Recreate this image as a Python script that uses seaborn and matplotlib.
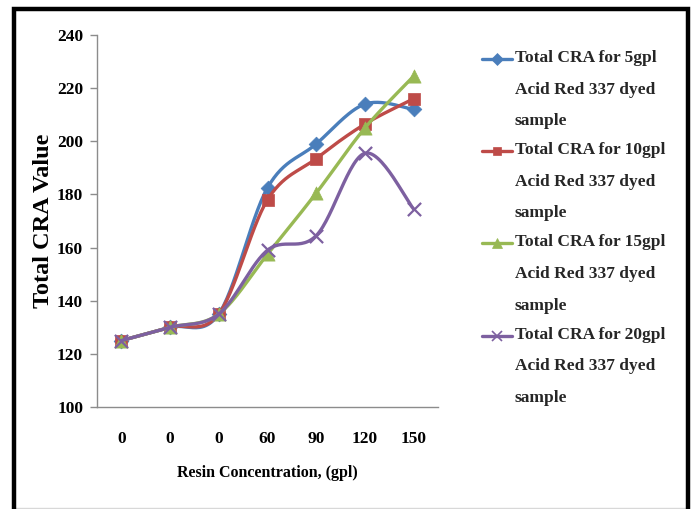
import numpy as np
import pandas as pd
import matplotlib
matplotlib.use("Agg")
import matplotlib.pyplot as plt
import seaborn as sns
from matplotlib.legend_handler import HandlerLine2D
from matplotlib.lines import Line2D
from matplotlib.patches import Rectangle

# ---- data ----
categories = ["0", "0", "0", "60", "90", "120", "150"]
cra_5gpl = [125, 130, 135, 182.5, 199, 214, 212]
cra_10gpl = [125, 130, 135, 178, 193.5, 206.5, 216]
cra_15gpl = [125, 130, 135, 157.5, 180.5, 205, 224.5]
cra_20gpl = [125, 130, 135, 159, 164.5, 195.5, 174.5]
series_labels = [
    "Total CRA for 5gpl\nAcid Red 337 dyed\nsample",
    "Total CRA for 10gpl\nAcid Red 337 dyed\nsample",
    "Total CRA for 15gpl\nAcid Red 337 dyed\nsample",
    "Total CRA for 20gpl\nAcid Red 337 dyed\nsample",
]
y_ticks = [100, 120, 140, 160, 180, 200, 220, 240]

colors = ["#4A7EBB", "#BE4B48", "#98B954", "#7D60A0"]
markers = ["D", "s", "^", "x"]
msizes = [7.5, 8.5, 9.5, 9.5]

sns.set_theme(style="white")
plt.rcParams['font.family'] = ['Liberation Serif', 'DejaVu Serif']
plt.rcParams['font.weight'] = 'bold'

fig = plt.figure(figsize=(6.92, 5.09), dpi=100)
ax = fig.add_axes([97 / 692, 1 - 407 / 509, 341 / 692, 372 / 509])


def excel_smooth(xs, ys, n=30):
    P = np.column_stack([xs, ys]).astype(float)
    out = []
    for i in range(len(P) - 1):
        p0 = P[i - 1] if i > 0 else P[i]
        p1, p2 = P[i], P[i + 1]
        p3 = P[i + 2] if i + 2 < len(P) else P[i + 1]
        c1 = p1 + (p2 - p0) / 6
        c2 = p2 - (p3 - p1) / 6
        t = np.linspace(0, 1, n, endpoint=(i == len(P) - 2))[:, None]
        out.append((1 - t) ** 3 * p1 + 3 * (1 - t) ** 2 * t * c1
                   + 3 * (1 - t) * t ** 2 * c2 + t ** 3 * p2)
    return np.vstack(out)


xpos = np.arange(len(categories))
all_series = [cra_5gpl, cra_10gpl, cra_15gpl, cra_20gpl]
handles = []
for i, vals in enumerate(all_series):
    curve = excel_smooth(xpos, vals)
    df_c = pd.DataFrame({"x": curve[:, 0], "y": curve[:, 1]})
    sns.lineplot(data=df_c, x="x", y="y", sort=False, estimator=None, ax=ax,
                 color=colors[i], lw=2.4, zorder=2 + 2 * i, legend=False)
    df_p = pd.DataFrame({"x": xpos, "y": vals})
    if markers[i] == "x":
        sns.scatterplot(data=df_p, x="x", y="y", ax=ax, marker="x", s=msizes[i] ** 2,
                        color=colors[i], linewidth=1.6, zorder=3 + 2 * i, legend=False)
    else:
        sns.scatterplot(data=df_p, x="x", y="y", ax=ax, marker=markers[i], s=msizes[i] ** 2,
                        color=colors[i], edgecolor=colors[i], linewidth=0.5,
                        zorder=3 + 2 * i, legend=False)
    handles.append(Line2D([], [], color=colors[i], lw=2.4, marker=markers[i],
                          markersize=msizes[i] * 0.75,
                          markeredgewidth=1.2 if markers[i] == "x" else 0.5))

ax.set_xlim(-0.5, len(categories) - 0.5)
ax.set_ylim(100, 240)
ax.set_yticks(y_ticks)
ax.set_xticks(xpos)
ax.set_xticklabels(categories)
for s in ["top", "right"]:
    ax.spines[s].set_visible(False)
for s in ["left", "bottom"]:
    ax.spines[s].set_color("#8C8C8C")
    ax.spines[s].set_linewidth(1.0)
ax.tick_params(axis="y", left=True, length=5, width=1, color="#8C8C8C",
               direction="out", pad=5, labelsize=12.5, labelcolor="black")
ax.tick_params(axis="x", bottom=False, length=0, pad=17, labelsize=12.5, labelcolor="black")
for lab in ax.get_xticklabels() + ax.get_yticklabels():
    lab.set_fontweight("bold")

ax.set_xlabel("Resin Concentration, (gpl)", fontsize=11.5, fontweight="bold",
              labelpad=13, color="black")
ax.set_ylabel("Total CRA Value", fontsize=17.5, fontweight="bold", labelpad=2, color="black")


class FirstLineHandler(HandlerLine2D):
    def __init__(self, shift, **kw):
        super().__init__(**kw)
        self.shift = shift

    def create_artists(self, legend, orig_handle, xdescent, ydescent, width, height,
                       fontsize, trans):
        arts = super().create_artists(legend, orig_handle, xdescent, ydescent, width,
                                      height, fontsize, trans)
        for a in arts:
            a.set_ydata(np.asarray(a.get_ydata(), dtype=float) + self.shift)
        return arts


hm = {h: FirstLineHandler(shift=22.0) for h in handles}
leg = fig.legend(handles, series_labels, loc="upper left",
                 bbox_to_anchor=(482 / 692, 1 - 50 / 509), frameon=False,
                 prop={"family": "Liberation Serif", "weight": "bold", "size": 12.5},
                 handlelength=1.75, handletextpad=0.15, borderpad=0, borderaxespad=0,
                 labelspacing=0.75, handler_map=hm)
for t in leg.get_texts():
    t.set_linespacing(2.3)

# figure frame
fig.add_artist(Rectangle((14 / 692, -0.05), (688 - 14) / 692, 1.05 - 9 / 509,
                         transform=fig.transFigure, fill=False, edgecolor="black",
                         lw=3.2, zorder=10))
fig.add_artist(Line2D([14 / 692, 688 / 692], [1.0 / 509, 1.0 / 509],
                      transform=fig.transFigure, color="#D8D8D8", lw=1.0))

fig.savefig("out.png", dpi=100)
